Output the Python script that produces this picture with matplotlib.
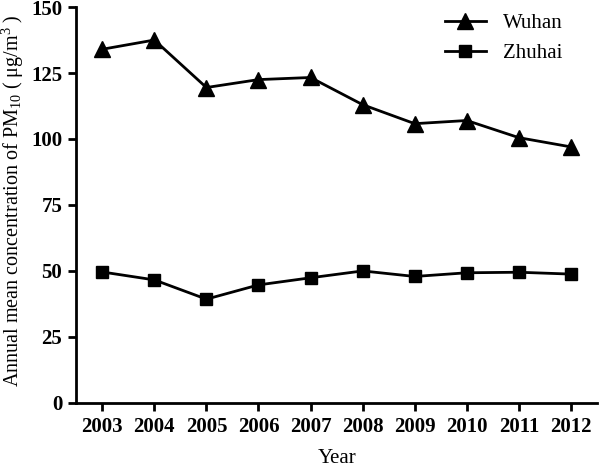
import matplotlib
matplotlib.use('Agg')
from matplotlib import pyplot as plt

# datos
years = [2003, 2004, 2005, 2006, 2007, 2008, 2009, 2010, 2011, 2012]
wuhan = [134, 137.5, 119.5, 122.5, 123.3, 113, 105.8, 107, 100.5, 97]
zhuhai = [49.6, 46.6, 39.3, 44.7, 47.4, 50, 47.9, 49.3, 49.5, 48.8]
yticks = [0, 25, 50, 75, 100, 125, 150]

plt.rcParams['font.family'] = 'Liberation Serif'
plt.rcParams['mathtext.fontset'] = 'custom'
plt.rcParams['mathtext.rm'] = 'Liberation Serif'
plt.rcParams['mathtext.it'] = 'Liberation Serif:italic'

fig = plt.figure(figsize=(6, 4.69), dpi=100)
ax = fig.add_axes([0.127, 0.141, 0.868, 0.844])

ax.plot(years, wuhan, color='black', lw=2, marker='^', markersize=11, label='Wuhan')
ax.plot(years, zhuhai, color='black', lw=2, marker='s', markersize=9, label='Zhuhai')

ax.set_xlim(2002.5, 2012.5)
ax.set_ylim(0, 150)
ax.set_xticks(years)
ax.set_yticks(yticks)
ax.tick_params(direction='out', length=6, width=2, labelsize=15, pad=4)
for lab in ax.get_xticklabels() + ax.get_yticklabels():
    lab.set_fontweight('bold')

for side in ['top', 'right']:
    ax.spines[side].set_visible(False)
for side in ['left', 'bottom']:
    ax.spines[side].set_linewidth(2)

ax.set_xlabel('Year', fontsize=15, labelpad=9)
ax.set_ylabel('Annual mean concentration of PM$_{10}$ ( μg/m$^3$ )', fontsize=14.5)
ax.yaxis.set_label_coords(-0.097, 0.51)

ax.legend(loc='upper right', frameon=False, fontsize=15, handlelength=2.0,
          bbox_to_anchor=(0.97, 1.03), labelspacing=0.5)

fig.savefig('out.png', dpi=100)
